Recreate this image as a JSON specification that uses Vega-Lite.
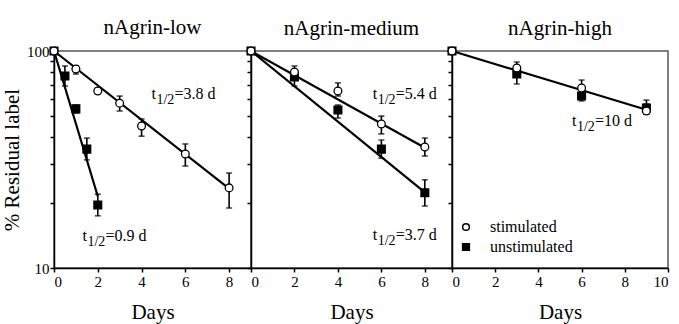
{
  "$schema": "https://vega.github.io/schema/vega-lite/v6.json",
  "autosize": {"type": "pad"},
  "padding": {"left": 0, "top": 16, "right": 5, "bottom": 2},
  "background": "white",
  "bounds": "flush",
  "spacing": 0,
  "config": {
    "font": "Liberation Serif, DejaVu Serif, serif",
    "view": {"stroke": "#555", "strokeWidth": 1.5},
    "axis": {"grid": false, "domainColor": "black", "domainWidth": 1.5, "tickColor": "black", "tickWidth": 1.5, "labelColor": "black", "titleColor": "black", "labelFontSize": 15, "titleFontSize": 21, "titleFontWeight": "normal", "labelFont": "Liberation Serif, DejaVu Serif, serif", "titleFont": "Liberation Serif, DejaVu Serif, serif"},
    "title": {"font": "Liberation Serif, DejaVu Serif, serif", "fontSize": 21, "fontWeight": "normal", "color": "black", "offset": 6},
    "legend": {"labelFont": "Liberation Serif, DejaVu Serif, serif", "labelFontSize": 16, "labelColor": "black"},
    "text": {"font": "Liberation Serif, DejaVu Serif, serif"}
  },
  "datasets": {
    "pts": [
      {"panel": "low", "condition": "unstimulated", "day": 0, "value": 100, "lo": null, "hi": null},
      {"panel": "low", "condition": "unstimulated", "day": 0.5, "value": 76.7, "lo": 69.0, "hi": 85.3},
      {"panel": "low", "condition": "unstimulated", "day": 1, "value": 54.1, "lo": 51.8, "hi": 56.4},
      {"panel": "low", "condition": "unstimulated", "day": 1.5, "value": 35.3, "lo": 31.5, "hi": 39.7},
      {"panel": "low", "condition": "unstimulated", "day": 2, "value": 19.5, "lo": 17.4, "hi": 21.9},
      {"panel": "low", "condition": "stimulated", "day": 0, "value": 100, "lo": null, "hi": null},
      {"panel": "low", "condition": "stimulated", "day": 1, "value": 82.6, "lo": 78.3, "hi": 85.3},
      {"panel": "low", "condition": "stimulated", "day": 2, "value": 65.4, "lo": 63.4, "hi": 67.5},
      {"panel": "low", "condition": "stimulated", "day": 3, "value": 57.5, "lo": 52.9, "hi": 62.0},
      {"panel": "low", "condition": "stimulated", "day": 4, "value": 45.1, "lo": 40.5, "hi": 48.6},
      {"panel": "low", "condition": "stimulated", "day": 6, "value": 33.5, "lo": 29.5, "hi": 37.3},
      {"panel": "low", "condition": "stimulated", "day": 8, "value": 23.4, "lo": 18.9, "hi": 27.4},
      {"panel": "medium", "condition": "unstimulated", "day": 0, "value": 100, "lo": null, "hi": null},
      {"panel": "medium", "condition": "unstimulated", "day": 2, "value": 75.9, "lo": 69.0, "hi": 79.2},
      {"panel": "medium", "condition": "unstimulated", "day": 4, "value": 53.5, "lo": 49.1, "hi": 56.4},
      {"panel": "medium", "condition": "unstimulated", "day": 6, "value": 35.3, "lo": 32.1, "hi": 38.9},
      {"panel": "medium", "condition": "unstimulated", "day": 8, "value": 22.2, "lo": 19.3, "hi": 25.5},
      {"panel": "medium", "condition": "stimulated", "day": 0, "value": 100, "lo": null, "hi": null},
      {"panel": "medium", "condition": "stimulated", "day": 2, "value": 80.0, "lo": 76.7, "hi": 85.3},
      {"panel": "medium", "condition": "stimulated", "day": 4, "value": 65.4, "lo": 62.0, "hi": 71.3},
      {"panel": "medium", "condition": "stimulated", "day": 6, "value": 46.1, "lo": 41.5, "hi": 50.1},
      {"panel": "medium", "condition": "stimulated", "day": 8, "value": 36.1, "lo": 32.8, "hi": 39.7},
      {"panel": "high", "condition": "unstimulated", "day": 0, "value": 100, "lo": null, "hi": null},
      {"panel": "high", "condition": "unstimulated", "day": 3, "value": 78.3, "lo": 70.5, "hi": 83.5},
      {"panel": "high", "condition": "unstimulated", "day": 6, "value": 62.1, "lo": 58.8, "hi": 67.5},
      {"panel": "high", "condition": "unstimulated", "day": 9, "value": 54.6, "lo": 51.3, "hi": 57.0},
      {"panel": "high", "condition": "stimulated", "day": 0, "value": 100, "lo": null, "hi": null},
      {"panel": "high", "condition": "stimulated", "day": 3, "value": 83.5, "lo": 78.0, "hi": 89.0},
      {"panel": "high", "condition": "stimulated", "day": 6, "value": 67.5, "lo": 62.0, "hi": 73.5},
      {"panel": "high", "condition": "stimulated", "day": 9, "value": 52.9, "lo": 51.3, "hi": 59.4}
    ],
    "fits": [
      {"panel": "low", "condition": "stimulated", "day": 0, "value": 100},
      {"panel": "low", "condition": "stimulated", "day": 8, "value": 23.2},
      {"panel": "low", "condition": "unstimulated", "day": 0, "value": 100},
      {"panel": "low", "condition": "unstimulated", "day": 2, "value": 21.4},
      {"panel": "medium", "condition": "stimulated", "day": 0, "value": 100},
      {"panel": "medium", "condition": "stimulated", "day": 8, "value": 35.8},
      {"panel": "medium", "condition": "unstimulated", "day": 0, "value": 100},
      {"panel": "medium", "condition": "unstimulated", "day": 8, "value": 22.3},
      {"panel": "high", "condition": "both", "day": 0, "value": 100},
      {"panel": "high", "condition": "both", "day": 9, "value": 53.6}
    ],
    "notes": [
      {"panel": "low", "day": 4.45, "value": 60, "rate": "=3.8 d"},
      {"panel": "low", "day": 1.3, "value": 13.3, "rate": "=0.9 d"},
      {"panel": "medium", "day": 5.6, "value": 60, "rate": "=5.4 d"},
      {"panel": "medium", "day": 5.6, "value": 13.5, "rate": "=3.7 d"},
      {"panel": "high", "day": 5.55, "value": 45, "rate": "=10 d"}
    ]
  },
  "resolve": {"scale": {"shape": "independent", "fill": "independent"}, "legend": {"shape": "independent", "fill": "independent"}},
  "hconcat": [
    {
      "width": 197, "height": 217,
      "title": "nAgrin-low",
      "encoding": {
        "x": {"field": "day", "type": "quantitative", "scale": {"domain": [0, 9], "nice": false}, "axis": {"title": "Days", "values": [0, 2, 4, 6, 8], "tickSize": 4, "labelPadding": 2, "titlePadding": 12}},
        "y": {"field": "value", "type": "quantitative", "scale": {"type": "log", "domain": [10, 100], "nice": false}, "axis": {"title": "% Residual label", "values": [10, 20, 30, 40, 50, 60, 70, 80, 90, 100], "labelExpr": "datum.value == 10 || datum.value == 100 ? datum.value : ''", "tickSize": 4, "labelPadding": 1, "titlePadding": 4}}
      },
      "layer": [
        {"data": {"name": "fits"}, "transform": [{"filter": "datum.panel == 'low'"}], "mark": {"type": "line", "color": "black", "strokeWidth": 2.2}, "encoding": {"detail": {"field": "condition"}}},
        {"data": {"name": "pts"}, "transform": [{"filter": "datum.panel == 'low' && datum.lo != null"}], "mark": {"type": "errorbar", "ticks": {"size": 6}, "thickness": 1.6, "color": "black"}, "encoding": {"y": {"field": "lo", "type": "quantitative"}, "y2": {"field": "hi"}}},
        {"data": {"name": "pts"}, "transform": [{"filter": "datum.panel == 'low'"}], "mark": {"type": "point", "stroke": "black", "strokeWidth": 1.3, "opacity": 1, "size": 60},
          "encoding": {
            "shape": {"field": "condition", "type": "nominal", "scale": {"domain": ["stimulated", "unstimulated"], "range": ["circle", "square"]}, "legend": null},
            "fill": {"field": "condition", "type": "nominal", "scale": {"domain": ["stimulated", "unstimulated"], "range": ["white", "black"]}, "legend": null}
          }},
        {"data": {"name": "notes"}, "transform": [{"filter": "datum.panel == 'low'"}], "mark": {"type": "text", "align": "left", "baseline": "alphabetic", "fontSize": 16, "color": "black"}, "encoding": {"text": {"value": "t"}}},
        {"data": {"name": "notes"}, "transform": [{"filter": "datum.panel == 'low'"}], "mark": {"type": "text", "align": "left", "baseline": "alphabetic", "fontSize": 14, "dx": 5, "dy": 5, "color": "black"}, "encoding": {"text": {"value": "1/2"}}},
        {"data": {"name": "notes"}, "transform": [{"filter": "datum.panel == 'low'"}], "mark": {"type": "text", "align": "left", "baseline": "alphabetic", "fontSize": 16, "dx": 23, "color": "black"}, "encoding": {"text": {"field": "rate"}}}
      ]
    },
    {
      "width": 201, "height": 217,
      "title": "nAgrin-medium",
      "encoding": {
        "x": {"field": "day", "type": "quantitative", "scale": {"domain": [0, 9.25], "nice": false}, "axis": {"title": "Days", "values": [0, 2, 4, 6, 8], "tickSize": 4, "labelPadding": 2, "titlePadding": 12}},
        "y": {"field": "value", "type": "quantitative", "scale": {"type": "log", "domain": [10, 100], "nice": false}, "axis": {"title": null, "labels": false, "values": [10, 20, 30, 40, 50, 60, 70, 80, 90, 100], "tickSize": 4}}
      },
      "layer": [
        {"data": {"name": "fits"}, "transform": [{"filter": "datum.panel == 'medium'"}], "mark": {"type": "line", "color": "black", "strokeWidth": 2.2}, "encoding": {"detail": {"field": "condition"}}},
        {"data": {"name": "pts"}, "transform": [{"filter": "datum.panel == 'medium' && datum.lo != null"}], "mark": {"type": "errorbar", "ticks": {"size": 6}, "thickness": 1.6, "color": "black"}, "encoding": {"y": {"field": "lo", "type": "quantitative"}, "y2": {"field": "hi"}}},
        {"data": {"name": "pts"}, "transform": [{"filter": "datum.panel == 'medium'"}], "mark": {"type": "point", "stroke": "black", "strokeWidth": 1.3, "opacity": 1, "size": 60},
          "encoding": {
            "shape": {"field": "condition", "type": "nominal", "scale": {"domain": ["stimulated", "unstimulated"], "range": ["circle", "square"]}, "legend": null},
            "fill": {"field": "condition", "type": "nominal", "scale": {"domain": ["stimulated", "unstimulated"], "range": ["white", "black"]}, "legend": null}
          }},
        {"data": {"name": "notes"}, "transform": [{"filter": "datum.panel == 'medium'"}], "mark": {"type": "text", "align": "left", "baseline": "alphabetic", "fontSize": 16, "color": "black"}, "encoding": {"text": {"value": "t"}}},
        {"data": {"name": "notes"}, "transform": [{"filter": "datum.panel == 'medium'"}], "mark": {"type": "text", "align": "left", "baseline": "alphabetic", "fontSize": 14, "dx": 5, "dy": 5, "color": "black"}, "encoding": {"text": {"value": "1/2"}}},
        {"data": {"name": "notes"}, "transform": [{"filter": "datum.panel == 'medium'"}], "mark": {"type": "text", "align": "left", "baseline": "alphabetic", "fontSize": 16, "dx": 23, "color": "black"}, "encoding": {"text": {"field": "rate"}}}
      ]
    },
    {
      "width": 216, "height": 217,
      "title": "nAgrin-high",
      "encoding": {
        "x": {"field": "day", "type": "quantitative", "scale": {"domain": [0, 10], "nice": false}, "axis": {"title": "Days", "values": [0, 2, 4, 6, 8, 10], "tickSize": 4, "labelPadding": 2, "titlePadding": 12}},
        "y": {"field": "value", "type": "quantitative", "scale": {"type": "log", "domain": [10, 100], "nice": false}, "axis": {"title": null, "labels": false, "values": [10, 20, 30, 40, 50, 60, 70, 80, 90, 100], "tickSize": 4}}
      },
      "layer": [
        {"data": {"name": "fits"}, "transform": [{"filter": "datum.panel == 'high'"}], "mark": {"type": "line", "color": "black", "strokeWidth": 2.2}, "encoding": {"detail": {"field": "condition"}}},
        {"data": {"name": "pts"}, "transform": [{"filter": "datum.panel == 'high' && datum.lo != null"}], "mark": {"type": "errorbar", "ticks": {"size": 6}, "thickness": 1.6, "color": "black"}, "encoding": {"y": {"field": "lo", "type": "quantitative"}, "y2": {"field": "hi"}}},
        {"data": {"name": "pts"}, "transform": [{"filter": "datum.panel == 'high'"}], "mark": {"type": "point", "stroke": "black", "color": "black", "strokeWidth": 1.3, "opacity": 1, "size": 60},
          "encoding": {
            "shape": {"field": "condition", "type": "nominal", "scale": {"domain": ["stimulated", "unstimulated"], "range": ["circle", "square"]}, "legend": {"title": null, "orient": "none", "legendX": 6, "legendY": 168, "symbolSize": 45, "rowPadding": 4, "labelOffset": 16, "encode": {"symbols": {"update": {"stroke": {"value": "black"}, "strokeWidth": {"value": 1}}}}}},
            "fill": {"field": "condition", "type": "nominal", "scale": {"domain": ["stimulated", "unstimulated"], "range": ["white", "black"]}, "legend": {"title": null, "orient": "none", "legendX": 6, "legendY": 168, "symbolSize": 45, "rowPadding": 4, "labelOffset": 16, "encode": {"symbols": {"update": {"stroke": {"value": "black"}, "strokeWidth": {"value": 1}}}}}}
          }},
        {"data": {"name": "notes"}, "transform": [{"filter": "datum.panel == 'high'"}], "mark": {"type": "text", "align": "left", "baseline": "alphabetic", "fontSize": 16, "color": "black"}, "encoding": {"text": {"value": "t"}}},
        {"data": {"name": "notes"}, "transform": [{"filter": "datum.panel == 'high'"}], "mark": {"type": "text", "align": "left", "baseline": "alphabetic", "fontSize": 14, "dx": 5, "dy": 5, "color": "black"}, "encoding": {"text": {"value": "1/2"}}},
        {"data": {"name": "notes"}, "transform": [{"filter": "datum.panel == 'high'"}], "mark": {"type": "text", "align": "left", "baseline": "alphabetic", "fontSize": 16, "dx": 23, "color": "black"}, "encoding": {"text": {"field": "rate"}}}
      ]
    }
  ]
}
